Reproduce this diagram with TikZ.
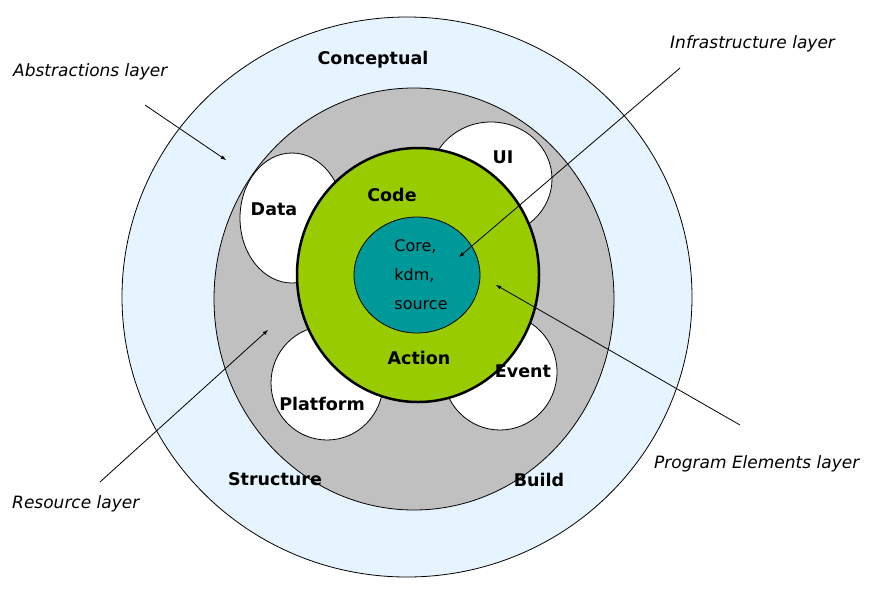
\documentclass[tikz,border=0pt]{standalone}
\usepackage{fontspec}
\setmainfont{DejaVu Sans}
\begin{document}
\begin{tikzpicture}[x=1pt,y=-1pt,
  lbl/.style={font=\bfseries\fontsize{17.5}{20}\selectfont},
  itl/.style={font=\itshape\fontsize{17}{20}\selectfont},
  wh/.style={draw=black,fill=white,line width=0.8pt},
  arr/.style={-latex,line width=0.8pt}]
\useasboundingbox (0,0) rectangle (886,603);
\draw[fill={rgb,255:red,230;green,244;blue,255},line width=0.8pt] (407,297) ellipse [x radius=285,y radius=280];
\draw[fill={rgb,255:red,192;green,192;blue,192},line width=0.8pt] (414,299) ellipse [x radius=200,y radius=211];
\draw[wh] (292,218) ellipse [x radius=52,y radius=65];
\draw[wh] (491,179) ellipse [x radius=61,y radius=57];
\draw[wh] (327,383) ellipse [x radius=56,y radius=57];
\draw[wh] (500,372) ellipse [x radius=57,y radius=58];
\draw[fill={rgb,255:red,153;green,204;blue,0},line width=2.5pt] (418,275) ellipse [x radius=121,y radius=127];
\draw[fill={rgb,255:red,0;green,153;blue,153},line width=0.8pt] (417,275) ellipse [x radius=63,y radius=58];
\node[lbl] (concept) at (373,60) {Conceptual};
\node[lbl] (data) at (274,209) {Data};
\node[lbl] (ui) at (503,157) {UI};
\node[lbl] (code) at (392,195) {Code};
\node[lbl] (action) at (419,358) {Action};
\node[lbl] (event) at (523,371) {Event};
\node[lbl] (platform) at (322,404) {Platform};
\node[lbl] (structure) at (275,479) {Structure};
\node[lbl] (build) at (539,480) {Build};
\node[align=left,font=\fontsize{16}{29}\selectfont] (core) at (421,275) {Core,\\kdm,\\source};
\node[itl,anchor=west,inner sep=0pt] (abs) at (13,72) {Abstractions layer};
\node[itl,anchor=west,inner sep=0pt] (infra) at (670,44) {Infrastructure layer};
\node[itl,anchor=west,inner sep=0pt] (prog) at (654,464) {Program Elements layer};
\node[itl,anchor=west,inner sep=0pt] (res) at (12,504) {Resource layer};
\coordinate (a1) at (145,105); \coordinate (a2) at (226,160);
\coordinate (i1) at (680,68); \coordinate (i2) at (459,257);
\coordinate (p1) at (740,425); \coordinate (p2) at (496,285);
\coordinate (r1) at (100,482); \coordinate (r2) at (268,330);
\draw[arr] (a1) -- (a2);
\draw[arr] (i1) -- (i2);
\draw[arr] (p1) -- (p2);
\draw[arr] (r1) -- (r2);
\end{tikzpicture}
\end{document}
